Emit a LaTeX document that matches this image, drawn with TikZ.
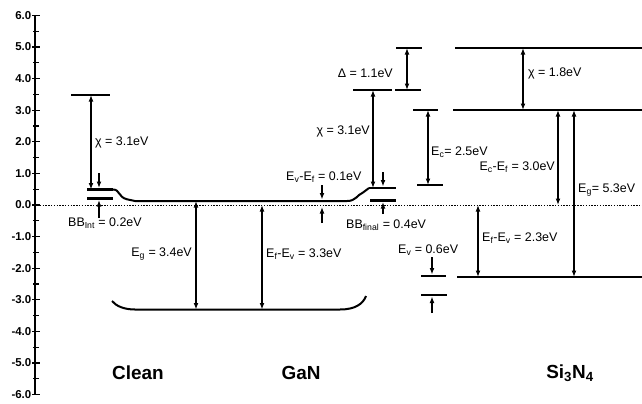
\documentclass[tikz,border=0pt]{standalone}
\usepackage{fontspec}
\setmainfont{Liberation Sans}
\usetikzlibrary{arrows.meta}
\begin{document}
\begin{tikzpicture}[x=1bp,y=-1bp,
 level/.style={line width=2.6bp},
 band/.style={line width=2bp},
 dim/.style={line width=1.1bp,{Latex[length=6.5bp,width=4.8bp]}-{Latex[length=6.5bp,width=4.8bp]}},
 pin/.style={line width=1.1bp,-{Latex[length=6.5bp,width=4.8bp]}},
 lbl/.style={inner sep=0pt,font=\fontsize{12.5}{13}\selectfont},
 axlbl/.style={inner sep=0pt,anchor=east,font=\bfseries\fontsize{11.5}{12}\selectfont},
 ttl/.style={inner sep=0pt,font=\bfseries\fontsize{19}{22}\selectfont}]
\useasboundingbox (0,0) rectangle (642,403);
% axis
\coordinate (axT) at (35,15.4); \coordinate (axB) at (35,394.6);
\draw[line width=1.8bp] (axT) -- (axB);
\foreach \k in {-6,...,6} {
  \pgfmathsetmacro\yy{205-31.6*\k}
  \draw[line width=1.3bp] (32,\yy) -- (40,\yy);
  \node[axlbl] (ax\k) at (31.5,\yy) {\k.0};
}
\foreach \k in {-11,-9,...,11} {
  \pgfmathsetmacro\yy{205-15.8*\k}
  \draw[line width=1.1bp] (33,\yy) -- (39,\yy);
}
% zero line
\coordinate (zL) at (37,205); \coordinate (zR) at (642,205);
\draw[line width=0.9bp,dash pattern=on 1.4bp off 1.4bp] (zL) -- (zR);

% ---- Clean ----
\coordinate (cvL) at (71,95); \coordinate (cvR) at (110,95);
\draw[level] (cvL) -- (cvR);
\coordinate (cchiT) at (91,95); \coordinate (cchiB) at (91,189.5);
\draw[dim] (cchiT) -- (cchiB);
\node[lbl,anchor=west] (cchi) at (95,142) {χ = 3.1eV};
\coordinate (csL) at (87,189.5); \coordinate (csR) at (113,189.5);
\draw[level] (csL) -- (csR);
\coordinate (clL) at (87,198.5); \coordinate (clR) at (113,198.5);
\draw[line width=2.2bp] (clL) -- (clR);
\coordinate (cbL) at (135,201); \coordinate (cbR) at (347,201);
\coordinate (gsL) at (369,188); \coordinate (gsR) at (396,188);
\draw[band] (csR) .. controls (120,189.5) and (118,197) .. (127,199.3) -- (cbL) -- (cbR)
  .. controls (356,201) and (357,195) .. (363,192.5) -- (gsL);
\coordinate (cb1s) at (99,173); \coordinate (cb1e) at (99,188);
\draw[pin] (cb1s) -- (cb1e);
\coordinate (cb2s) at (99,218); \coordinate (cb2e) at (99,200);
\draw[pin] (cb2s) -- (cb2e);
\node[lbl,anchor=west] (bbint) at (68,223) {BB\textsubscript{Int} = 0.2eV};

% valence band
\coordinate (vbLe) at (112,301); \coordinate (vbL) at (135,309.5);
\coordinate (vbR) at (340,309.5); \coordinate (vbRe) at (366,296);
\draw[band] (vbLe) .. controls (116,306) and (124,309.5) .. (vbL) -- (vbR)
  .. controls (355,309.5) and (363,304) .. (vbRe);
\coordinate (egT) at (196,201); \coordinate (egB) at (196,309.5);
\draw[dim] (egT) -- (egB);
\node[lbl,anchor=east] (eg) at (192,254) {E\textsubscript{g} = 3.4eV};
\coordinate (fvT) at (262,205); \coordinate (fvB) at (262,309.5);
\draw[dim] (fvT) -- (fvB);
\node[lbl,anchor=west] (fv) at (266,254) {E\textsubscript{f}-E\textsubscript{v} = 3.3eV};

% ---- GaN surface after ----
\draw[level] (gsL) -- (gsR);
\coordinate (glL) at (370,200.5); \coordinate (glR) at (396,200.5);
\draw[line width=2.2bp] (glL) -- (glR);
\coordinate (gvL) at (353,90); \coordinate (gvR) at (392,90);
\draw[level] (gvL) -- (gvR);
\coordinate (gchiT) at (373,90); \coordinate (gchiB) at (373,188);
\draw[dim] (gchiT) -- (gchiB);
\node[lbl,anchor=east] (gchi) at (370,131) {χ = 3.1eV};
\coordinate (gb1s) at (383,172); \coordinate (gb1e) at (383,186.5);
\draw[pin] (gb1s) -- (gb1e);
\coordinate (gb2s) at (383,214); \coordinate (gb2e) at (383,202);
\draw[pin] (gb2s) -- (gb2e);
\node[lbl,anchor=west] (bbfin) at (346,225) {BB\textsubscript{final} = 0.4eV};
\node[lbl,anchor=west] (vf) at (286,177) {E\textsubscript{v}-E\textsubscript{f} = 0.1eV};
\coordinate (vf1s) at (322,185); \coordinate (vf1e) at (322,199.5);
\draw[pin] (vf1s) -- (vf1e);
\coordinate (vf2s) at (322,223); \coordinate (vf2e) at (322,207);
\draw[pin] (vf2s) -- (vf2e);

% ---- offsets column ----
\coordinate (dTL) at (396,48); \coordinate (dTR) at (422,48);
\draw[level] (dTL) -- (dTR);
\coordinate (dBL) at (395,90); \coordinate (dBR) at (421,90);
\draw[level] (dBL) -- (dBR);
\coordinate (dT) at (407,48); \coordinate (dB) at (407,90);
\draw[dim] (dT) -- (dB);
\node[lbl,anchor=east] (delta) at (393,73) {Δ = 1.1eV};
\coordinate (ecTL) at (413,110); \coordinate (ecTR) at (438,110);
\draw[level] (ecTL) -- (ecTR);
\coordinate (ecBL) at (417,185); \coordinate (ecBR) at (443,185);
\draw[level] (ecBL) -- (ecBR);
\coordinate (ecT) at (428,110); \coordinate (ecB) at (428,185);
\draw[dim] (ecT) -- (ecB);
\node[lbl,anchor=west] (ec) at (431,152) {E\textsubscript{c}= 2.5eV};
\node[lbl,anchor=west] (ev) at (398,250) {E\textsubscript{v} = 0.6eV};
\coordinate (evTL) at (421,276); \coordinate (evTR) at (446,276);
\draw[level] (evTL) -- (evTR);
\coordinate (evBL) at (421,295); \coordinate (evBR) at (447,295);
\draw[level] (evBL) -- (evBR);
\coordinate (ev1s) at (432,257); \coordinate (ev1e) at (432,274.5);
\draw[pin] (ev1s) -- (ev1e);
\coordinate (ev2s) at (432,313); \coordinate (ev2e) at (432,296.5);
\draw[pin] (ev2s) -- (ev2e);

% ---- Si3N4 ----
\coordinate (svL) at (455,48); \coordinate (svR) at (642,48);
\draw[level] (svL) -- (svR);
\coordinate (scL) at (453,110); \coordinate (scR) at (642,110);
\draw[level] (scL) -- (scR);
\coordinate (svbL) at (457,277); \coordinate (svbR) at (642,277);
\draw[level] (svbL) -- (svbR);
\coordinate (schiT) at (523,48); \coordinate (schiB) at (523,110);
\draw[dim] (schiT) -- (schiB);
\node[lbl,anchor=west] (schi) at (528,73) {χ = 1.8eV};
\coordinate (scfT) at (558,110); \coordinate (scfB) at (558,205);
\draw[dim] (scfT) -- (scfB);
\node[lbl,anchor=east] (scf) at (555,167) {E\textsubscript{c}-E\textsubscript{f} = 3.0eV};
\coordinate (sgT) at (574,110); \coordinate (sgB) at (574,277);
\draw[dim] (sgT) -- (sgB);
\node[lbl,anchor=west] (sg) at (578,190) {E\textsubscript{g}= 5.3eV};
\coordinate (sfvT) at (478,205); \coordinate (sfvB) at (478,277);
\draw[dim] (sfvT) -- (sfvB);
\node[lbl,anchor=west] (sfv) at (482,238) {E\textsubscript{f}-E\textsubscript{v} = 2.3eV};

% titles
\node[ttl] (tclean) at (138,373) {Clean};
\node[ttl] (tgan) at (301,373) {GaN};
\node[ttl] (tsin) at (570,373) {Si\textsubscript{3}N\textsubscript{4}};
\end{tikzpicture}
\end{document}
